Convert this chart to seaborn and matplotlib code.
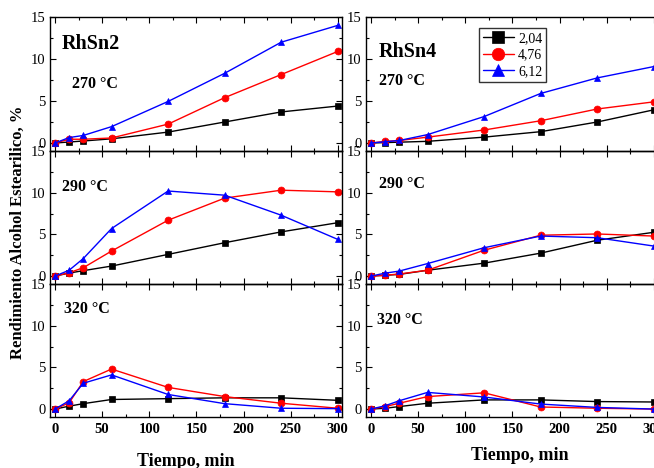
import matplotlib
matplotlib.use("Agg")
import matplotlib.pyplot as plt
import seaborn as sns
import pandas as pd
from matplotlib.ticker import MultipleLocator

sns.set_theme(style="ticks")
plt.rcParams['font.family'] = ['Liberation Serif', 'DejaVu Serif']
plt.rcParams['text.color'] = 'black'
plt.rcParams['axes.labelcolor'] = 'black'
plt.rcParams['xtick.color'] = 'black'
plt.rcParams['ytick.color'] = 'black'

# ---- data ----
tiempo = [0, 15, 30, 60, 120, 180, 240, 300]
ratios = ["2,04", "4,76", "6,12"]

# RhSn2
rhsn2_270 = {"2,04": [0, 0.12, 0.24, 0.5, 1.3, 2.5, 3.7, 4.4],
             "4,76": [0, 0.45, 0.45, 0.6, 2.25, 5.4, 8.15, 10.9],
             "6,12": [0, 0.65, 0.9, 1.95, 4.95, 8.3, 12.0, 14.0]}
rhsn2_290 = {"2,04": [0, 0.36, 0.65, 1.2, 2.6, 4.0, 5.3, 6.4],
             "4,76": [0, 0.4, 1.0, 3.0, 6.7, 9.35, 10.3, 10.1],
             "6,12": [0, 0.7, 2.1, 5.7, 10.2, 9.7, 7.3, 4.4]}
rhsn2_320 = {"2,04": [0, 0.35, 0.65, 1.15, 1.25, 1.35, 1.35, 1.05],
             "4,76": [0, 0.75, 3.3, 4.8, 2.6, 1.5, 0.7, 0.1],
             "6,12": [0, 1.0, 3.1, 4.1, 1.75, 0.65, 0.1, 0.05]}
# RhSn4
rhsn4_270 = {"2,04": [0, 0.05, 0.1, 0.2, 0.7, 1.35, 2.5, 3.95],
             "4,76": [0, 0.2, 0.3, 0.7, 1.55, 2.65, 4.05, 4.9],
             "6,12": [0, 0.15, 0.3, 1.0, 3.15, 5.9, 7.75, 9.1]}
rhsn4_290 = {"2,04": [0, 0.1, 0.2, 0.7, 1.55, 2.75, 4.3, 5.25],
             "4,76": [0, 0.1, 0.25, 0.7, 3.1, 4.9, 5.05, 4.8],
             "6,12": [0, 0.35, 0.6, 1.5, 3.4, 4.8, 4.6, 3.6]}
rhsn4_320 = {"2,04": [0, 0.1, 0.3, 0.7, 1.1, 1.1, 0.9, 0.85],
             "4,76": [0, 0.3, 0.7, 1.5, 1.95, 0.25, 0.1, 0.0],
             "6,12": [0, 0.4, 1.0, 2.0, 1.45, 0.6, 0.2, 0.0]}

colors = {"2,04": "black", "4,76": "#ff0000", "6,12": "#0000ff"}
markers = {"2,04": "s", "4,76": "o", "6,12": "^"}

W, H = 654, 468
fig = plt.figure(figsize=(W / 100, H / 100), dpi=100)

def fx(px):
    return px / W

def fy(py):
    return 1 - py / H

col_left = [50, 366]
col_w = 292
row_top = [17, 151, 284]
row_h = [134, 133, 133]

panels = [[rhsn2_270, rhsn4_270], [rhsn2_290, rhsn4_290], [rhsn2_320, rhsn4_320]]

axes = []
for r in range(3):
    for c in range(2):
        ax = fig.add_axes([fx(col_left[c]), fy(row_top[r] + row_h[r]),
                           col_w / W, row_h[r] / H])
        data = panels[r][c]
        for k in ratios:
            sns.lineplot(x=tiempo, y=data[k], ax=ax, color=colors[k],
                         marker=markers[k], markersize=5, markeredgecolor=colors[k],
                         markeredgewidth=0.5, linewidth=1.0,
                         label=k if (r == 0 and c == 1) else None, legend=False)
        ax.set_xlim(-5.3, 304.5)
        ax.set_ylim(-0.95, 15)
        ax.set_yticks([0, 5, 10, 15])
        ax.set_xticks([0, 50, 100, 150, 200, 250, 300])
        ax.xaxis.set_minor_locator(MultipleLocator(25))
        ax.yaxis.set_minor_locator(MultipleLocator(2.5))
        ax.tick_params(which='both', direction='in', top=True, right=(c == 0),
                       colors='black', width=0.8)
        ax.tick_params(which='major', length=4)
        ax.tick_params(which='minor', length=2)
        ax.tick_params(axis='y', labelsize=10.5, pad=3)
        ax.tick_params(axis='x', labelsize=10.5, pad=4)
        for s in ax.spines.values():
            s.set_linewidth(1.0)
            s.set_color('black')
        ax.set_xlabel("")
        ax.set_ylabel("")
        if r < 2:
            ax.set_xticklabels([])
        else:
            for t in ax.get_xticklabels():
                t.set_fontweight('bold')
        ax.patch.set_alpha(0)
        axes.append(ax)

# legend on top-right panel
leg = axes[1].legend(loc='upper left', bbox_to_anchor=((479 - 366) / col_w, 1 - (28 - 17) / 134),
                     frameon=True, fancybox=False, edgecolor='black', fontsize=10,
                     markerscale=1.8, handlelength=2.2, borderpad=0.3,
                     labelspacing=0.25, handletextpad=0.3, borderaxespad=0)
leg.get_frame().set_linewidth(1.0)

# annotations
fig.text(fx(62), fy(44), "RhSn2", fontsize=14.5, fontweight='bold', va='center', ha='left')
fig.text(fx(72), fy(84), "270 °C", fontsize=11.5, fontweight='bold', va='center', ha='left')
fig.text(fx(379), fy(52), "RhSn4", fontsize=14.5, fontweight='bold', va='center', ha='left')
fig.text(fx(379), fy(81), "270 °C", fontsize=11.5, fontweight='bold', va='center', ha='left')
fig.text(fx(62), fy(187), "290 °C", fontsize=11.5, fontweight='bold', va='center', ha='left')
fig.text(fx(379), fy(184), "290 °C", fontsize=11.5, fontweight='bold', va='center', ha='left')
fig.text(fx(64), fy(309), "320 °C", fontsize=11.5, fontweight='bold', va='center', ha='left')
fig.text(fx(377), fy(320), "320 °C", fontsize=11.5, fontweight='bold', va='center', ha='left')

fig.text(fx(186), fy(461), "Tiempo, min", fontsize=13, fontweight='bold', ha='center', va='center')
fig.text(fx(520), fy(455), "Tiempo, min", fontsize=13, fontweight='bold', ha='center', va='center')
fig.text(fx(18), fy(232), "Rendimiento Alcohol Estearilico, %", fontsize=12, fontweight='bold',
         rotation=90, ha='center', va='center')

fig.savefig("out.png", dpi=100)
